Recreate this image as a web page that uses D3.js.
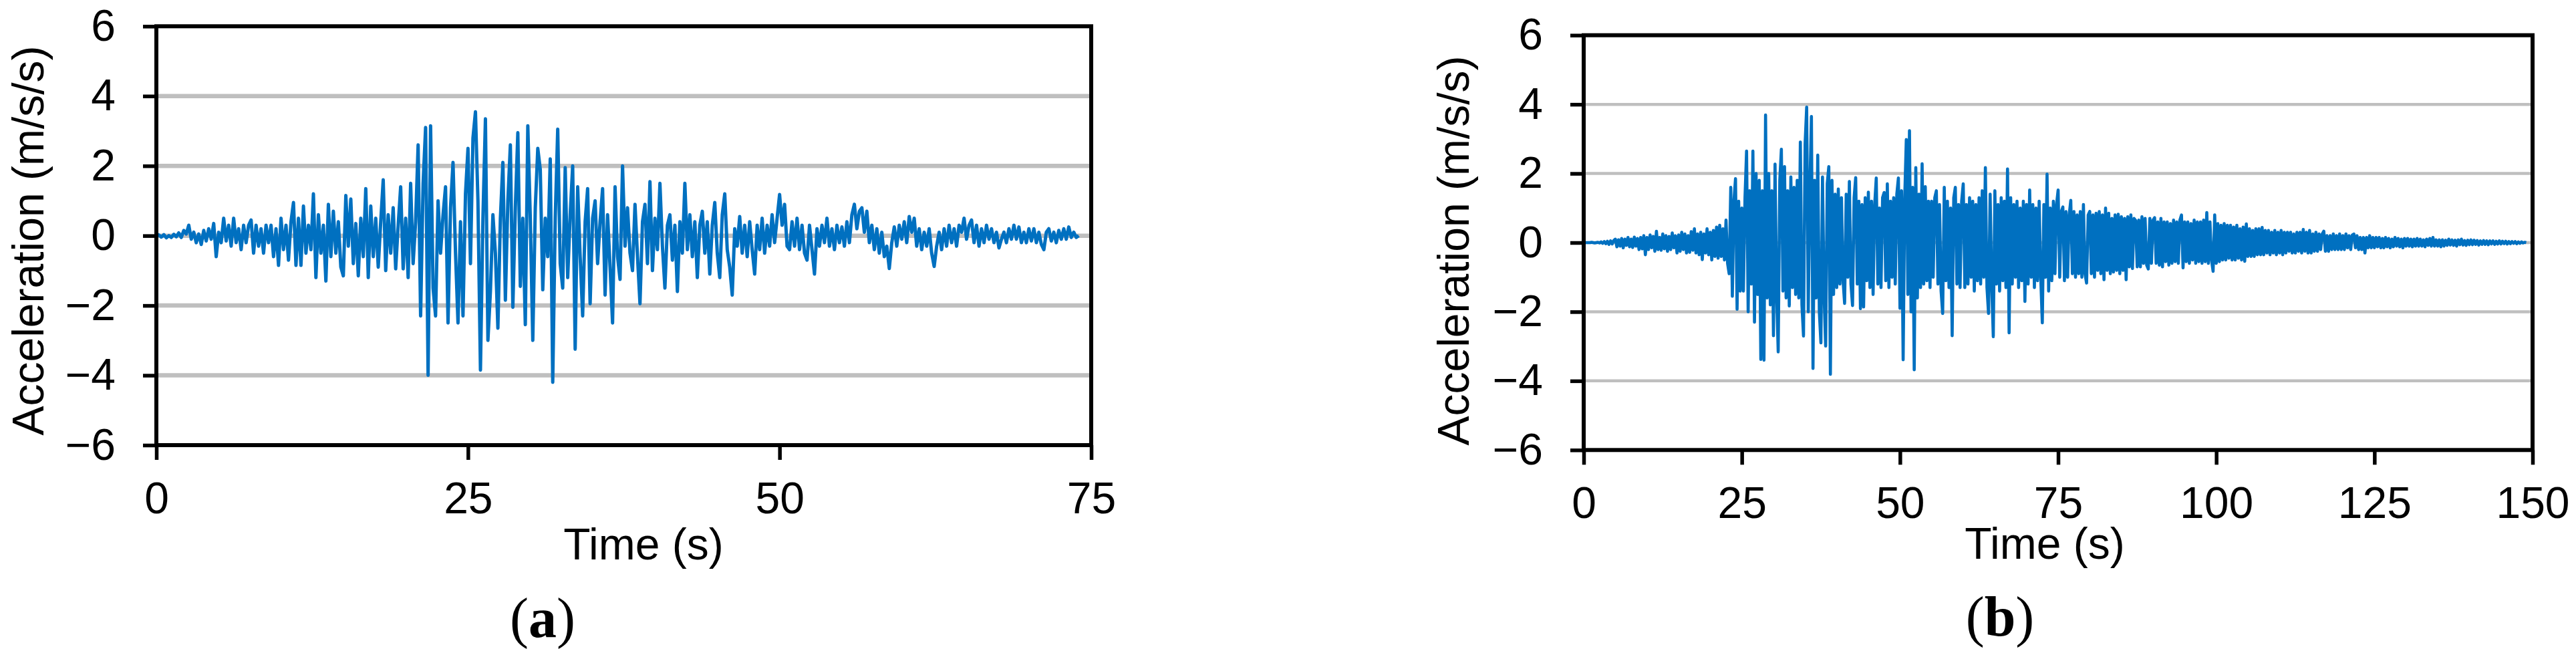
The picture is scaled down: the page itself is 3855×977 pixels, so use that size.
<!DOCTYPE html>
<html><head><meta charset="utf-8">
<script src="https://cdn.jsdelivr.net/npm/d3@7"></script>
<style>html,body{margin:0;padding:0;background:#fff;} svg{display:block}</style>
</head><body>
<svg id="chart" width="3855" height="977"></svg>
<script>
// ---------- DATA ----------
// Panel (a): acceleration record, one value every 0.2 s (0 – 74 s)
const dtA = 0.2;
const accelA = [
 0.05, 0.02, -0.04, 0.03, -0.06, 0.0, -0.05, 0.04, -0.03, 0.08,
 -0.05, 0.15, 0.05, 0.3, -0.1, 0.1, -0.2, 0.05, -0.25, 0.15,
 -0.15, 0.2, -0.1, 0.35, -0.6, 0.1, -0.2, 0.5, -0.15, 0.3,
 -0.3, 0.5, -0.2, 0.2, -0.4, 0.3, -0.2, 0.3, 0.45, -0.5,
 0.3, -0.3, 0.2, -0.5, 0.3, -0.2, 0.3, -0.6, 0.2, -0.85,
 0.5, -0.4, 0.3, -0.7, 0.4, 0.95, -0.85, 0.5, -0.85, 0.85,
 -0.5, 0.3, -0.4, 1.2, -1.2, 0.6, -0.5, 0.3, -1.3, 0.9,
 -0.6, 0.7, -0.5, 0.4, -0.9, -1.15, 1.15, -0.3, 1.05, -0.8,
 0.35, -1.15, 0.5, -0.6, 1.35, -1.2, 0.85, -0.6, 0.5, -0.9,
 0.4, 1.6, -1.0, 0.6, -0.5, 0.8, -0.95, 0.3, 1.4, -0.95,
 0.5, -1.2, 1.5, -0.8, 0.4, 2.6, -2.3, 1.5, 3.1, -4.0,
 3.15, -1.5, -2.3, 1.0, -0.5, 0.6, 1.4, -2.5, 0.8, 2.1,
 -0.5, -2.5, 0.4, -2.3, 1.2, 2.5, -0.8, 2.8, 3.55, 1.0,
 -3.85, 0.5, 3.35, -3.0, -1.6, 0.6, -0.5, -2.65, 0.5, 2.1,
 -1.85, 1.0, 2.6, -2.05, 0.8, 2.95, -1.45, 0.5, -2.55, 3.15,
 0.5, -3.0, 0.8, 2.5, 1.9, -1.55, 0.5, -0.6, 2.2, -4.2,
 0.5, 3.05, -0.8, -1.5, 1.95, -1.2, 0.6, 2.0, -3.25, 1.4,
 -0.6, -2.3, 0.4, 1.35, -1.95, 0.5, 1.0, -0.8, 0.4, 1.35,
 -1.7, 0.6, -0.9, -2.5, 1.4, -0.6, -1.25, 2.0, -0.3, 0.8,
 -0.5, -1.0, 0.9, -0.6, -1.95, 0.4, 0.9, -0.8, 1.55, -1.0,
 0.5, -0.4, 1.5, -0.3, -1.5, 0.3, 0.6, -0.7, 0.3, -1.6,
 0.4, -0.5, 1.5, -0.4, 0.6, -0.6, 0.4, -1.2, 0.3, 0.7,
 -0.5, 0.4, -1.1, 0.3, 0.95, -0.5, -1.2, 0.6, 1.2, -0.4,
 -0.9, -1.7, 0.2, -0.3, 0.55, -0.5, 0.3, -0.6, 0.4, -0.4,
 -1.1, 0.3, -0.4, 0.5, -0.5, 0.3, -0.3, 0.6, -0.2, 0.5,
 1.18, 0.3, 0.9, -0.3, -0.4, 0.4, -0.3, 0.5, -0.4, 0.3,
 -0.5, -0.7, 0.3, -0.4, -1.1, 0.2, -0.3, 0.3, -0.2, 0.5,
 -0.3, 0.2, -0.4, 0.3, -0.2, 0.25, -0.3, 0.4, -0.2, 0.6,
 0.9, 0.2, 0.7, 0.8, 0.1, 0.7, -0.2, 0.3, -0.4, 0.2,
 -0.5, 0.1, -0.6, -0.3, -0.94, -0.2, 0.25, -0.3, 0.3, -0.1,
 0.4, -0.2, 0.55, 0.1, 0.5, -0.3, 0.2, -0.4, 0.1, -0.3,
 0.2, -0.5, -0.88, -0.3, 0.1, -0.4, 0.2, -0.3, 0.3, -0.2,
 0.2, -0.3, 0.3, 0.1, 0.5, -0.1, 0.3, 0.45, -0.2, 0.3,
 -0.3, 0.2, -0.2, 0.3, -0.1, 0.2, -0.2, 0.1, -0.35, -0.1,
 0.1, -0.2, 0.2, -0.1, 0.3, -0.1, 0.25, -0.2, 0.1, -0.2,
 0.2, -0.15, 0.2, -0.2, 0.1, -0.25, -0.4, 0.1, 0.2, -0.15,
 0.1, -0.2, 0.15, -0.1, 0.2, -0.1, 0.25, -0.05, 0.1, -0.05, 0.0
];

// Panel (b): acceleration record, one value every 0.25 s (0 – 149 s)
const dtB = 0.25;
const accelB = [
 0, 0, 0, 0, 0, 0.01, 0, -0.01, 0, 0.01, -0.01, 0.02, -0.02, 0.03, -0.03, 0.04, -0.05, 0.05, -0.04, 0.06,
 0.1, -0.12, 0.08, -0.1, 0.12, -0.15, 0.1, -0.08, 0.15, -0.12, 0.1, -0.14, 0.16, -0.1, 0.12, -0.2, 0.15, -0.18, 0.2, -0.35,
 0.15, -0.2, 0.22, -0.15, 0.18, -0.25, 0.33, -0.2, 0.15, -0.22, 0.25, -0.18, 0.2, -0.25, 0.18, -0.2, 0.28, -0.15, 0.2, -0.3,
 0.22, -0.25, 0.3, -0.2, 0.25, -0.3, 0.2, -0.28, 0.32, -0.22, 0.4, -0.3, 0.25, -0.35, 0.3, -0.49, 0.25, -0.3, 0.4, -0.35,
 0.3, -0.5, 0.35, -0.4, 0.45, -0.45, 0.5, -0.4, 0.4, -0.5, 0.65, -0.6, -0.9, 1.6, -1.55, 1.2, 1.85, -1.93, 1.2, -1.4,
 1.0, -1.4, 1.3, 2.65, -2.0, 1.5, -1.2, 2.65, -2.3, 2.0, -1.5, 1.8, -3.38, 1.5, -3.4, 3.69, -1.6, 2.0, -1.8, 1.5,
 -2.69, 2.27, -1.5, -3.16, 1.8, 2.7, -1.4, 2.2, -1.6, 1.5, -1.83, 1.9, -1.3, 1.6, -1.5, 1.8, -1.6, 2.91, -1.8, -2.7,
 2.85, 3.92, -2.0, 1.5, 3.65, -3.64, 1.8, -1.6, 2.53, -2.0, -2.9, 1.9, -1.5, -2.99, 1.7, 2.2, -3.81, 1.8, -1.5, 1.4,
 -1.3, 1.55, -1.2, 1.3, -1.1, -1.76, 1.4, -1.0, 1.77, -1.2, -1.82, 1.3, 1.88, -1.2, 1.2, -1.91, 1.1, -1.86, 1.3, -1.1,
 1.46, -1.3, 1.2, -1.5, 1.1, 1.87, -1.2, 1.0, -1.3, 1.3, 1.45, -1.1, 1.7, -1.3, 1.2, -1.0, 1.3, -1.2, 1.4, 1.87,
 -1.9, 1.5, -3.39, 1.3, 2.98, -1.5, 3.24, -2.0, 1.6, -3.68, 2.17, -1.6, 1.4, -1.3, 2.28, -1.2, 1.62, -1.1, 1.2, -1.3,
 1.2, -1.0, 1.3, 1.5, -1.2, 1.1, -1.4, -2.05, 1.6, -1.1, 1.2, -1.3, 1.0, -2.69, 1.3, 1.6, -1.2, 1.1, -1.3, 1.2,
 1.7, -1.3, 1.1, -1.2, 1.3, -1.0, 1.2, -1.4, 1.1, -1.1, 1.3, -1.2, 1.5, -1.0, 2.17, -1.3, -2.05, 1.4, -1.2, -2.72,
 1.5, -1.2, 1.1, -1.4, 1.3, -1.1, 1.2, -1.3, 2.13, -2.61, 1.3, -1.2, 1.1, -1.0, 1.2, -1.3, 1.0, -1.1, 1.2, -1.7,
 1.1, -1.2, 1.52, -1.0, 1.1, -1.3, 1.0, -1.1, 1.2, -1.0, -2.32, 1.1, -1.0, 1.98, -1.4, 1.0, -1.1, 1.2, -0.9, 1.1,
 1.52, -1.0, 0.9, 1.03, -1.1, 0.9, -1.0, 0.8, 1.22, -0.9, 0.9, -1.0, 0.8, -0.9, 0.9, -1.0, 1.1, -0.9, -1.17, 0.8,
 0.9, -0.9, 0.8, -1.0, 0.85, -0.8, 0.9, -0.9, 0.8, -1.07, 1.0, -0.8, 0.85, -0.9, 0.7, -0.85, 0.8, -0.8, 0.82, -0.9,
 0.75, -0.8, 0.7, -1.07, 0.75, -0.7, 0.8, -0.75, 0.7, 0.64, -0.7, 0.65, -0.7, 0.75, -0.6, 0.7, -0.65, -0.76, 0.7, -0.6,
 0.65, 0.72, -0.6, 0.6, -0.65, 0.7, -0.7, 0.6, -0.55, 0.6, -0.65, 0.55, -0.6, 0.65, -0.55, 0.6, -0.6, 0.65, 0.8, -0.73,
 0.6, -0.55, 0.6, -0.6, 0.55, -0.5, 0.65, -0.6, 0.6, -0.55, 0.6, -0.6, 0.65, -0.55, 0.87, -0.6, 0.6, -0.5, -0.83, 0.8,
 -0.6, 0.55, -0.55, 0.5, -0.5, 0.55, -0.5, 0.5, -0.45, 0.5, -0.5, 0.45, -0.5, 0.5, -0.45, 0.4, -0.5, 0.45, -0.54, 0.54,
 -0.4, 0.4, -0.4, 0.35, -0.4, 0.4, -0.35, 0.4, -0.35, 0.44, -0.35, 0.35, -0.3, 0.35, -0.35, 0.3, -0.3, 0.35, -0.35, 0.3,
 -0.3, 0.35, -0.35, 0.3, -0.3, 0.3, -0.25, 0.3, -0.3, 0.25, -0.3, 0.3, -0.25, 0.3, -0.3, 0.38, -0.25, 0.3, -0.3, 0.35,
 -0.3, 0.25, -0.25, 0.3, -0.25, 0.25, -0.2, 0.25, 0.33, -0.25, 0.2, -0.25, 0.2, -0.2, 0.25, -0.2, 0.2, -0.2, 0.25, -0.2,
 0.2, -0.2, 0.25, -0.15, 0.2, -0.2, 0.22, 0.25, -0.15, 0.2, -0.2, 0.15, -0.2, 0.15, -0.3, 0.15, -0.15, 0.2, -0.15, 0.15,
 -0.15, 0.15, -0.12, 0.15, -0.15, 0.12, -0.15, 0.15, -0.12, 0.12, -0.15, 0.1, -0.12, 0.15, -0.1, 0.12, -0.12, 0.1, -0.15, 0.12,
 -0.1, 0.12, -0.1, 0.1, -0.12, 0.1, -0.1, 0.12, -0.1, 0.1, -0.1, 0.08, -0.12, 0.1, -0.08, 0.12, -0.1, 0.15, -0.1, 0.08,
 -0.1, 0.08, -0.12, 0.08, -0.1, 0.07, -0.08, 0.1, -0.07, 0.08, -0.08, 0.07, -0.1, 0.08, -0.06, 0.1, -0.07, 0.06, -0.08, 0.07,
 -0.06, 0.08, -0.06, 0.07, -0.05, 0.06, -0.07, 0.05, -0.05, 0.06, -0.05, 0.05, -0.06, 0.05, -0.04, 0.05, -0.05, 0.04, -0.04, 0.05,
 -0.04, 0.04, -0.03, 0.04, -0.04, 0.03, -0.03, 0.03, -0.02, 0.03, -0.03, 0.02, -0.02, 0.02, -0.01, 0.01, 0.0
];

// Axes: tick values and labels
const yDomain = [-6, 6];
const yTickValues = [-6, -4, -2, 0, 2, 4, 6];
const gridValues = [-4, -2, 0, 2, 4];
const xDomainA = [0, 75];
const xTicksA = [0, 25, 50, 75];
const xDomainB = [0, 150];
const xTicksB = [0, 25, 50, 75, 100, 125, 150];
const xTitle = "Time (s)";
const yTitle = "Acceleration (m/s/s)";
const panelLetters = ["a", "b"];

// ---------- LAYOUT ----------
const panels = [
  { data: accelA, dt: dtA, xDomain: xDomainA, xTicks: xTicksA, letter: panelLetters[0],
    left: 234, right: 1633, top: 39.3, bottom: 666, gridW: 6.5, lineW: 5.0,
    yTitleX: 65, yTitleY: 360, xTitleX: 963, xTitleY: 837, letterX: 812, letterY: 953 },
  { data: accelB, dt: dtB, xDomain: xDomainB, xTicks: xTicksB, letter: panelLetters[1],
    left: 2370, right: 3790, top: 52.7, bottom: 673.3, gridW: 4.5, lineW: 4.6,
    yTitleX: 2198, yTitleY: 375, xTitleX: 3060, xTitleY: 836, letterX: 2993, letterY: 951 }
];

const svg = d3.select("#chart");
const sans = "'Liberation Sans', Arial, Helvetica, sans-serif";
const serif = "'Liberation Serif', 'Times New Roman', serif";
const fmt = d3.format("d");

panels.forEach(p => {
  const x = d3.scaleLinear().domain(p.xDomain).range([p.left, p.right]);
  const y = d3.scaleLinear().domain(yDomain).range([p.bottom, p.top]);
  const g = svg.append("g");

  // gridlines
  g.selectAll("line.grid").data(gridValues).join("line")
    .attr("class", "grid")
    .attr("x1", p.left).attr("x2", p.right)
    .attr("y1", d => y(d)).attr("y2", d => y(d))
    .attr("stroke", "#BFBFBF").attr("stroke-width", p.gridW);

  // data line
  const line = d3.line().x((d, i) => x(i * p.dt)).y(d => y(d));
  g.append("path").datum(p.data)
    .attr("d", line)
    .attr("fill", "none")
    .attr("stroke", "#0070C0")
    .attr("stroke-width", p.lineW)
    .attr("stroke-linejoin", "round");

  // frame
  g.append("rect")
    .attr("x", p.left).attr("y", p.top)
    .attr("width", p.right - p.left).attr("height", p.bottom - p.top)
    .attr("fill", "none").attr("stroke", "#000").attr("stroke-width", 6);

  // y axis
  const ya = g.append("g")
    .attr("transform", `translate(${p.left},0)`)
    .call(d3.axisLeft(y).tickValues(yTickValues).tickSize(20).tickPadding(41).tickFormat(fmt));
  ya.select(".domain").remove();
  ya.selectAll(".tick line").attr("stroke", "#000").attr("stroke-width", 5.5);
  ya.selectAll(".tick text").attr("fill", "#000").attr("font-size", 66).attr("font-family", sans);

  // x axis
  const xa = g.append("g")
    .attr("transform", `translate(0,${p.bottom})`)
    .call(d3.axisBottom(x).tickValues(p.xTicks).tickSize(22).tickPadding(33).tickFormat(fmt));
  xa.select(".domain").remove();
  xa.selectAll(".tick line").attr("stroke", "#000").attr("stroke-width", 5.5);
  xa.selectAll(".tick text").attr("fill", "#000").attr("font-size", 66).attr("font-family", sans);

  // axis titles
  g.append("text")
    .attr("transform", `translate(${p.yTitleX},${p.yTitleY}) rotate(-90)`)
    .attr("text-anchor", "middle")
    .attr("font-family", sans).attr("font-size", 66).attr("fill", "#000")
    .text(yTitle);
  g.append("text")
    .attr("x", p.xTitleX).attr("y", p.xTitleY)
    .attr("text-anchor", "middle")
    .attr("font-family", sans).attr("font-size", 66).attr("fill", "#000")
    .text(xTitle);

  // panel letter
  const t = g.append("text")
    .attr("x", p.letterX).attr("y", p.letterY)
    .attr("text-anchor", "middle")
    .attr("font-family", serif).attr("font-size", 84).attr("fill", "#000");
  t.append("tspan").text("(");
  t.append("tspan").attr("font-weight", "bold").text(p.letter);
  t.append("tspan").text(")");
});
</script>
</body></html>
